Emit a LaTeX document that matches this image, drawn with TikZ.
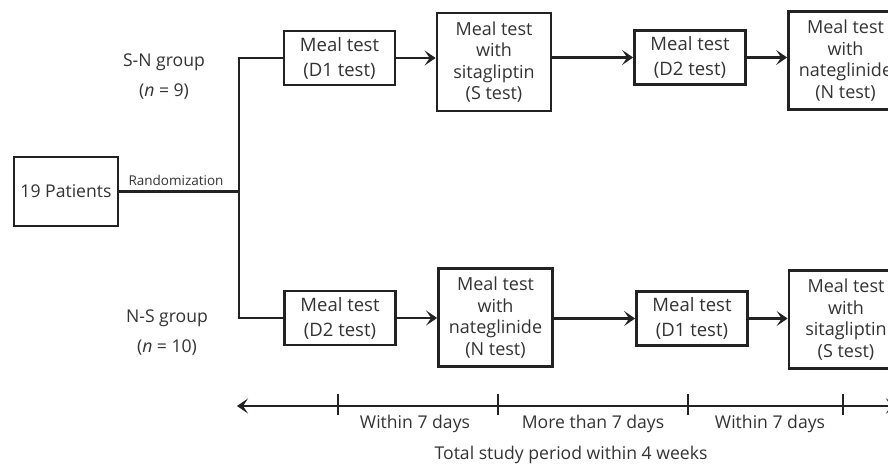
\documentclass[tikz,border=0pt]{standalone}
\usepackage{fontspec}
\setmainfont{Open Sans}
\usetikzlibrary{arrows.meta}
\definecolor{inkline}{HTML}{222222}
\definecolor{inktext}{HTML}{333333}

\begin{document}
\begin{tikzpicture}[x=1pt,y=-1pt,
  every node/.style={text=inktext,font=\fontsize{17.6}{25}\selectfont},
  patientbox/.style={draw=inkline,line width=2.8pt,minimum width=104pt,minimum height=69pt,inner sep=0pt},
  testbox/.style={draw=inkline,line width=2.8pt,minimum width=111pt,minimum height=54pt,inner sep=0pt,align=center,
    font=\fontsize{18.5}{25}\selectfont},
  drugbox/.style={draw=inkline,line width=2.8pt,minimum width=114pt,minimum height=98pt,inner sep=0pt,align=center,
    font=\fontsize{18}{21.5}\selectfont},
  flow/.style={draw=inkline,line width=2.8pt,-{Stealth[length=11pt,width=15pt,inset=5pt]}},
  link/.style={draw=inkline,line width=2.8pt}]
  \clip (0,0) rectangle (888,465);
  % start and randomization
  \node[patientbox] (patients) at (66,191.5) {19 Patients};
  \coordinate (split) at (239,191.5);
  \node[font=\fontsize{13.5}{16}\selectfont] (rand) at (176,180) {Randomization};
  \node (sngroup) at (164,62) {S-N group};
  \node (snsize) at (164,92) {({\itshape n} = 9)};
  \node (nsgroup) at (167,318) {N-S group};
  \node (nssize) at (167,348) {({\itshape n} = 10)};
  % S-N sequence
  \node[testbox] (snD1) at (339.5,58) {Meal test\\(D1 test)};
  \node[drugbox] (snS) at (494,62) {Meal test\\with\\sitagliptin\\(S test)};
  \node[testbox] (snD2) at (690,57.5) {Meal test\\(D2 test)};
  \node[drugbox] (snN) at (845.5,60.5) {Meal test\\with\\nateglinide\\(N test)};
  % N-S sequence
  \node[testbox] (nsD2) at (340,318) {Meal test\\(D2 test)};
  \node[drugbox] (nsN) at (495.5,317.5) {Meal test\\with\\nateglinide\\(N test)};
  \node[testbox] (nsD1) at (692,318.5) {Meal test\\(D1 test)};
  \node[drugbox] (nsS) at (846,319.5) {Meal test\\with\\sitagliptin\\(S test)};
  % connectors
  \draw[link] (patients) -- (split);
  \draw[link] (snD1.west) -| (split) |- (nsD2.west);
  \draw[flow] (snD1.east) -- (snS.west |- snD1.east);
  \draw[flow] (snS.east |- snD2.west) -- (snD2.west);
  \draw[flow] (snD2.east) -- (snN.west |- snD2.east);
  \draw[flow] (nsD2.east) -- (nsN.west |- nsD2.east);
  \draw[flow] (nsN.east |- nsD1.west) -- (nsD1.west);
  \draw[flow] (nsD1.east) -- (nsS.west |- nsD1.east);
  % time line
  \coordinate (tleft) at (237,406);
  \coordinate (tright) at (897,406);
  \draw[flow,{Stealth[length=11pt,width=15pt,inset=5pt]}-{Stealth[length=11pt,width=15pt,inset=5pt]}] (tleft) -- (tright);
  \foreach \tx in {338,498,688,843}
    \draw[link] (\tx,394) -- (\tx,415);
  \node (span1) at (415,424) {Within 7 days};
  \node (span2) at (593,424) {More than 7 days};
  \node (span3) at (770,424) {Within 7 days};
  \node (total) at (571,455) {Total study period within 4 weeks};
\end{tikzpicture}
\end{document}
